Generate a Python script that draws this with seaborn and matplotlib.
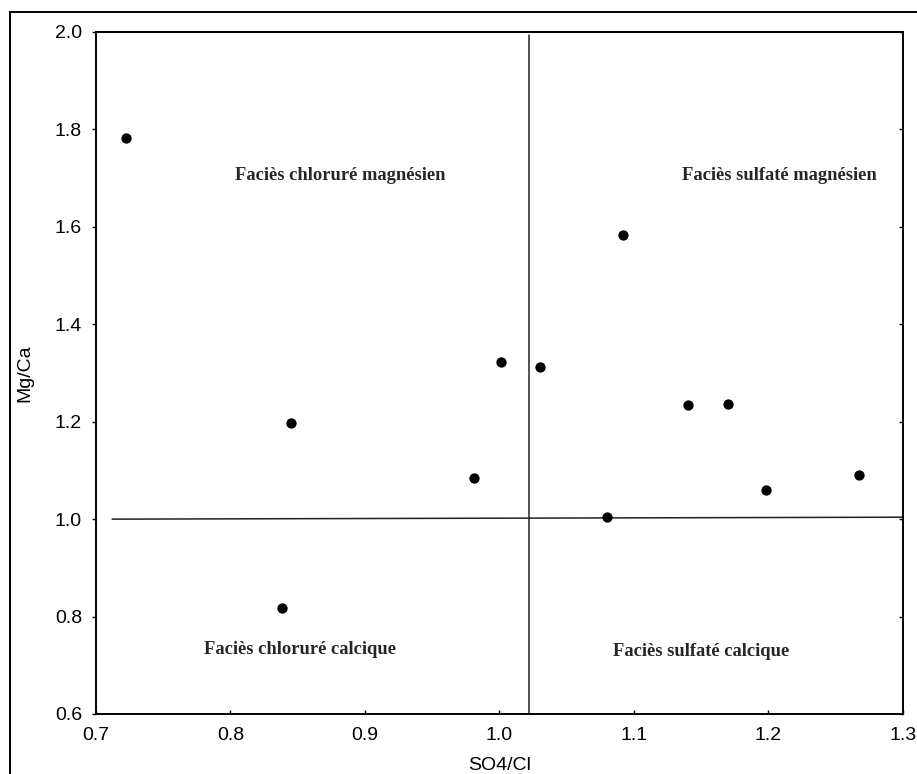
import matplotlib
matplotlib.use("Agg")
import matplotlib.pyplot as plt
from matplotlib.patches import Rectangle
import seaborn as sns
import pandas as pd

# Data
so4_cl = [0.722, 0.845, 0.838, 0.981, 1.001, 1.030, 1.092, 1.140, 1.170, 1.198, 1.267, 1.080]
mg_ca = [1.782, 1.197, 0.818, 1.084, 1.323, 1.312, 1.584, 1.234, 1.237, 1.060, 1.091, 1.005]

x_ticks = [0.7, 0.8, 0.9, 1.0, 1.1, 1.2, 1.3]
y_ticks = [0.6, 0.8, 1.0, 1.2, 1.4, 1.6, 1.8, 2.0]

facies_labels = ["Faciès chloruré magnésien", "Faciès sulfaté magnésien",
                 "Faciès chloruré calcique", "Faciès sulfaté calcique"]
facies_x = [0.8815, 1.2082, 0.8518, 1.1501]
facies_y = [1.706, 1.706, 0.733, 0.729]

# divider lines (data coords)
hline_x = [0.712, 1.30]
hline_y = [1.000, 1.004]
vline_x = [1.0223, 1.0223]
vline_y = [1.994, 0.60]

df = pd.DataFrame({"SO4/Cl": so4_cl, "Mg/Ca": mg_ca})

sns.set_theme(style="ticks")
plt.rcParams["font.family"] = ["Liberation Sans", "DejaVu Sans"]

fig = plt.figure(figsize=(9.17, 7.74), dpi=100)
ax = fig.add_axes([96 / 917, 60 / 774, 807 / 917, 682 / 774])

sns.scatterplot(data=df, x="SO4/Cl", y="Mg/Ca", ax=ax, color="black",
                s=55, marker="o", edgecolor="black", linewidth=0, zorder=3)

ax.plot(hline_x, hline_y, color="#222222", lw=1.1, zorder=2)
ax.plot(vline_x, vline_y, color="#222222", lw=1.1, zorder=2)

for t, xx, yy in zip(facies_labels, facies_x, facies_y):
    ax.text(xx, yy, t, ha="center", va="center", fontsize=13.3,
            fontweight="bold", family=["Liberation Serif", "DejaVu Serif"])

ax.set_xlim(0.7, 1.3)
ax.set_ylim(0.6, 2.0)
ax.set_xticks(x_ticks)
ax.set_yticks(y_ticks)
ax.set_xticklabels([f"{v:.1f}" for v in x_ticks])
ax.set_yticklabels([f"{v:.1f}" for v in y_ticks])

ax.tick_params(axis="x", direction="in", length=3, width=1, pad=9,
               labelsize=14, colors="black")
ax.tick_params(axis="y", direction="out", length=3, width=1, pad=7,
               labelsize=14, colors="black")
ax.tick_params(axis="y", which="both", right=True, left=True)
# right ticks inward
for tick in ax.yaxis.get_major_ticks():
    tick.tick2line.set_marker(matplotlib.lines.TICKLEFT)

ax.set_xlabel("SO4/Cl", fontsize=14, color="black")
ax.set_ylabel("Mg/Ca", fontsize=14, color="black")
ax.xaxis.set_label_coords(0.5, -0.0625)
ax.yaxis.set_label_coords(-0.0774, 0.5)

for sp in ax.spines.values():
    sp.set_visible(True)
    sp.set_color("black")
    sp.set_linewidth(1.4)

# outer frame
fig.patches.append(Rectangle((9.5 / 917, -0.2), 1.2, (774 - 12) / 774 + 0.2,
                             transform=fig.transFigure, fill=False,
                             edgecolor="black", linewidth=1.4))

fig.savefig("out.png", dpi=100)
